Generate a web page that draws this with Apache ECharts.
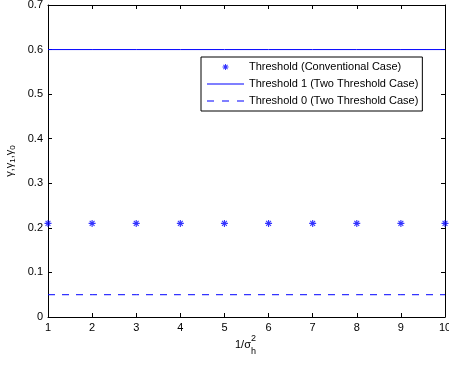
<!DOCTYPE html>
<html>
<head>
<meta charset="utf-8">
<script src="https://cdn.jsdelivr.net/npm/echarts@6/dist/echarts.min.js"></script>
<style>
    html, body { margin: 0; padding: 0; background: #fff; }
    #chart { width: 449px; height: 365px; }
</style>
</head>
<body>
<div id="chart"></div>
<script>
// data
const xValues = [1, 2, 3, 4, 5, 6, 7, 8, 9, 10];
const thresholdConventional = [0.21, 0.21, 0.21, 0.21, 0.21, 0.21, 0.21, 0.21, 0.21, 0.21];
const threshold1 = [0.6, 0.6, 0.6, 0.6, 0.6, 0.6, 0.6, 0.6, 0.6, 0.6];
const threshold0 = [0.05, 0.05, 0.05, 0.05, 0.05, 0.05, 0.05, 0.05, 0.05, 0.05];
const seriesNames = [
    'Threshold (Conventional Case)',
    'Threshold 1 (Two Threshold Case)',
    'Threshold 0 (Two Threshold Case)'
];

const font = 'Liberation Sans, Arial, Helvetica, sans-serif';
const blue = '#0000ff';
// matlab style '*' marker
const starBody = 'M-0.8,-5 L0.8,-5 L0.8,5 L-0.8,5 Z M-5,-0.8 L5,-0.8 L5,0.8 L-5,0.8 Z ' +
    'M-2.9,-4.0 L4.0,2.9 L2.9,4.0 L-4.0,-2.9 Z M2.9,-4.0 L4.0,-2.9 L-2.9,4.0 L-4.0,2.9 Z';
const asterisk = 'path://' + starBody;
// legend icons, padded out to the 37x12 icon box so nothing gets stretched
const legendStar = 'path://M-30.8,-10 L-30.8,-10 M30.8,10 L30.8,10 ' + starBody;
const solidIcon = 'path://M0,-6 L0,-6 M0,-0.5 L37,-0.5 L37,0.5 L0,0.5 Z M0,6 L0,6';
const dashIcon = 'path://M0,-6 L0,-6 M0,-0.5 L7,-0.5 L7,0.5 L0,0.5 Z M15,-0.5 L22,-0.5 L22,0.5 L15,0.5 Z ' +
    'M30,-0.5 L37,-0.5 L37,0.5 L30,0.5 Z M0,6 L0,6';

function pairs(ys) {
    return xValues.map((x, i) => [x, ys[i]]);
}

const chart = echarts.init(document.getElementById('chart'), null, { renderer: 'canvas' });

const tickStyle = { show: true, inside: true, length: 4, lineStyle: { color: '#000', width: 1 } };
const axisLineStyle = { show: true, onZero: false, lineStyle: { color: '#000', width: 1 } };

const option = {
    animation: false,
    backgroundColor: '#fff',
    grid: { left: 48, right: 4, top: 5, bottom: 48, containLabel: false, outerBoundsMode: 'none' },
    xAxis: [
        {
            type: 'value', min: 1, max: 10, interval: 1, position: 'bottom',
            axisLine: axisLineStyle, axisTick: tickStyle, splitLine: { show: false },
            axisLabel: { color: '#000', fontSize: 11, fontFamily: font, margin: 5 }
        },
        {
            type: 'value', min: 1, max: 10, interval: 1, position: 'top',
            axisLine: axisLineStyle, axisTick: tickStyle, splitLine: { show: false },
            axisLabel: { show: false }
        }
    ],
    yAxis: [
        {
            type: 'value', min: 0, max: 0.7, interval: 0.1, position: 'left',
            axisLine: axisLineStyle, axisTick: tickStyle, splitLine: { show: false },
            axisLabel: { color: '#000', fontSize: 11, fontFamily: font, margin: 5 },
            name: 'γ,γ{s|1},γ{s|0}', nameLocation: 'middle', nameGap: 29, nameRotate: 90,
            nameTextStyle: {
                color: '#000', fontSize: 11, fontFamily: font,
                rich: { s: { fontSize: 8, fontFamily: font, color: '#000', verticalAlign: 'bottom', padding: [5, 0, 0, 0] } }
            }
        },
        {
            type: 'value', min: 0, max: 0.7, interval: 0.1, position: 'right',
            axisLine: axisLineStyle, axisTick: tickStyle, splitLine: { show: false },
            axisLabel: { show: false }
        }
    ],
    legend: {
        orient: 'vertical',
        left: 201, top: 57,
        width: 236,
        padding: [4, 4, 4, 6],
        itemGap: 5,
        itemWidth: 37, itemHeight: 12,
        backgroundColor: '#fff',
        borderColor: '#000', borderWidth: 1, borderRadius: 0,
        textStyle: { color: '#000', fontSize: 11, fontFamily: font },
        data: [
            { name: seriesNames[0], icon: legendStar, itemStyle: { color: blue } },
            { name: seriesNames[1], icon: solidIcon, itemStyle: { color: blue } },
            { name: seriesNames[2], icon: dashIcon, itemStyle: { color: blue } }
        ]
    },
    graphic: [
        {
            type: 'text', left: 235, top: 339,
            style: { text: '1/σ', fill: '#000', font: '11px ' + font }
        },
        {
            type: 'text', left: 251, top: 334,
            style: { text: '2', fill: '#000', font: '9px ' + font }
        },
        {
            type: 'text', left: 251, top: 347,
            style: { text: 'h', fill: '#000', font: '9px ' + font }
        }
    ],
    series: [
        {
            name: seriesNames[0],
            type: 'scatter',
            symbol: asterisk,
            symbolSize: 7,
            symbolKeepAspect: true,
            itemStyle: { color: blue },
            data: pairs(thresholdConventional)
        },
        {
            name: seriesNames[1],
            type: 'line',
            symbol: 'none',
            lineStyle: { color: blue, width: 1 },
            itemStyle: { color: blue },
            data: pairs(threshold1)
        },
        {
            name: seriesNames[2],
            type: 'line',
            symbol: 'none',
            lineStyle: { color: blue, width: 1, type: [7, 7] },
            itemStyle: { color: blue },
            data: pairs(threshold0)
        }
    ]
};

chart.setOption(option);
</script>
</body>
</html>
